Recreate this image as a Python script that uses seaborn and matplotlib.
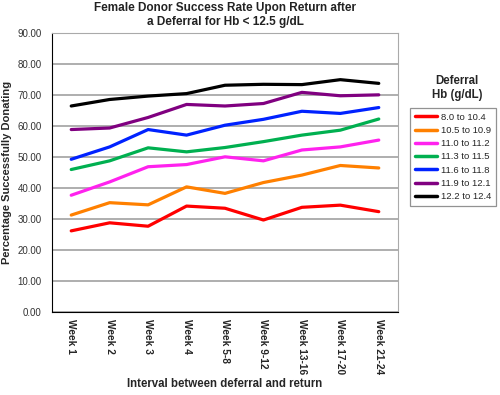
import matplotlib
matplotlib.use('Agg')
import matplotlib.pyplot as plt
import seaborn as sns
import pandas as pd
from matplotlib.ticker import FixedLocator, FormatStrFormatter

weeks = ['Week 1', 'Week 2', 'Week 3', 'Week 4', 'Week 5-8', 'Week 9-12',
         'Week 13-16', 'Week 17-20', 'Week 21-24']
grupos = ['8.0 to 10.4', '10.5 to 10.9', '11.0 to 11.2', '11.3 to 11.5',
          '11.6 to 11.8', '11.9 to 12.1', '12.2 to 12.4']
hb_80_104 = [26.2, 28.8, 27.7, 34.2, 33.5, 29.7, 33.8, 34.5, 32.4]
hb_105_109 = [31.3, 35.3, 34.6, 40.4, 38.3, 41.8, 44.2, 47.3, 46.5]
hb_110_112 = [37.7, 42.0, 46.9, 47.6, 50.1, 48.8, 52.3, 53.3, 55.5]
hb_113_115 = [46.0, 48.8, 53.0, 51.7, 53.1, 55.0, 57.1, 58.7, 62.3]
hb_116_118 = [49.3, 53.3, 58.9, 57.1, 60.3, 62.2, 64.8, 64.1, 66.0]
hb_119_121 = [58.9, 59.4, 62.8, 67.0, 66.5, 67.3, 70.9, 69.8, 70.1]
hb_122_124 = [66.5, 68.6, 69.7, 70.5, 73.2, 73.5, 73.4, 75.0, 73.8]
cores = ['#ff0000', '#ff8000', '#ff22ee', '#00b050', '#0022ff', '#800080', '#000000']

valores = [hb_80_104, hb_105_109, hb_110_112, hb_113_115, hb_116_118, hb_119_121, hb_122_124]
linhas = []
for g, vals in zip(grupos, valores):
    for i, (w, v) in enumerate(zip(weeks, vals)):
        linhas.append({'pos': i, 'week': w, 'grupo': g, 'valor': v})
df = pd.DataFrame(linhas)

sns.set_style('white')
plt.rcParams['font.family'] = ['Liberation Sans', 'DejaVu Sans']

fig = plt.figure(figsize=(5, 3.95), dpi=100)
ax = fig.add_axes([0.104, 0.21, 0.692, 0.706])

sns.lineplot(data=df, x='pos', y='valor', hue='grupo', hue_order=grupos,
             palette=cores, linewidth=2.3, ax=ax, legend=True)

ax.set_ylim(0, 90)
ax.set_xlim(-0.5, len(weeks) - 0.5)
ax.set_yticks(range(0, 91, 10))
ax.yaxis.set_major_formatter(FormatStrFormatter('%.2f'))
ax.set_xticks(range(len(weeks)))
ax.set_xticklabels(weeks, rotation=-90, fontweight='bold', fontsize=7.3)
ax.xaxis.set_minor_locator(FixedLocator([i - 0.5 for i in range(len(weeks) + 1)]))
ax.tick_params(axis='x', which='major', length=0, pad=5)
ax.tick_params(axis='x', which='minor', length=4, width=0.8, color='black', direction='out')
ax.tick_params(axis='y', length=4, width=0.8, color='black', direction='out', labelsize=7)
ax.tick_params(axis='y', labelcolor='#333333')
ax.grid(axis='y', color='#999999', linewidth=1.1)
ax.set_axisbelow(True)
for s in ['top', 'right']:
    ax.spines[s].set_color('#aaaaaa')
for s in ['left', 'bottom']:
    ax.spines[s].set_color('black')

ax.set_title('Female Donor Success Rate Upon Return after\na Deferral for Hb < 12.5 g/dL',
             fontsize=8.5, fontweight='bold', color='#222222', pad=6, linespacing=1.15)
ax.set_xlabel('Interval between deferral and return', fontsize=8.3, fontweight='bold', labelpad=3)
ax.set_ylabel('Percentage Successfully Donating', fontsize=8.0, fontweight='bold', labelpad=4)

leg = ax.legend(loc='upper left', bbox_to_anchor=(1.035, 0.732), fontsize=6.8, frameon=True,
                fancybox=False, edgecolor='#777777', handlelength=2.3, labelspacing=0.45,
                borderpad=0.5, handletextpad=0.45, borderaxespad=0)
leg.get_frame().set_linewidth(0.9)
for line in leg.get_lines():
    line.set_linewidth(2.5)
fig.text(0.914, 0.744, 'Deferral\nHb (g/dL)', ha='center', va='bottom', fontsize=8.3,
         fontweight='bold', linespacing=1.2)

fig.savefig('out.png', dpi=100)
